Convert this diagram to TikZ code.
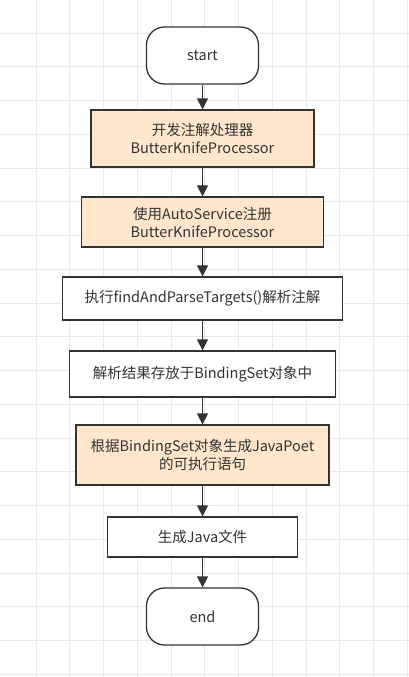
\documentclass[tikz,border=0pt]{standalone}
\usepackage{fontspec}
\setmainfont{Noto Sans CJK SC}
\usetikzlibrary{arrows.meta}
\definecolor{inkgray}{HTML}{333333}
\definecolor{peach}{HTML}{FFE6CC}
\definecolor{gridgray}{HTML}{E8E8E8}
\begin{document}
\begin{tikzpicture}[x=1pt,y=-1pt]
                        \tikzstyle{every node}=[text=inkgray,font=\fontsize{14.5}{18}\selectfont,align=center]
                        \tikzstyle{terminal}=[draw=inkgray,line width=1.3pt,fill=white,rounded corners=18pt,minimum width=112pt,minimum height=57pt]
                        \tikzstyle{stepbox}=[draw=inkgray,line width=1.3pt,fill=white,inner sep=0pt]
                        \tikzstyle{hot}=[stepbox,fill=peach]
                        \tikzstyle{flow}=[draw=inkgray,line width=1.4pt,-{Triangle[length=11pt,width=11pt]}]
                        \useasboundingbox (0,0) rectangle (409,677);
                        \fill[white] (0,0) rectangle (409,677);
                        \foreach \k in {0,...,11}
                            \draw[gridgray,line width=0.8pt] (36.05+33.75*\k,0) -- (36.05+33.75*\k,677);
                        \foreach \k in {0,...,19}
                            \draw[gridgray,line width=0.8pt] (0,33+33.75*\k) -- (409,33+33.75*\k);
                        \node[terminal] (start) at (202.5,55.5) {start};
                        \node[hot,minimum width=223pt,minimum height=57pt] (dev) at (202.5,138.5) {开发注解处理器\\ButterKnifeProcessor};
                        \node[hot,minimum width=242pt,minimum height=50pt] (reg) at (202.5,222) {使用AutoService注册\\ButterKnifeProcessor};
                        \node[stepbox,minimum width=280pt,minimum height=43pt] (parse) at (202.5,298.5) {执行findAndParseTargets()解析注解};
                        \node[stepbox,minimum width=266pt,minimum height=46pt] (store) at (202.5,374) {解析结果存放于BindingSet对象中};
                        \node[hot,minimum width=253pt,minimum height=60pt] (poet) at (202.5,455) {根据BindingSet对象生成JavaPoet\\的可执行语句};
                        \node[stepbox,minimum width=190pt,minimum height=40pt] (java) at (202.5,537) {生成Java文件};
                        \node[terminal] (end) at (202.5,616.5) {end};
                        \draw[flow] (start) -- (dev);
                        \draw[flow] (dev) -- (reg);
                        \draw[flow] (reg) -- (parse);
                        \draw[flow] (parse) -- (store);
                        \draw[flow] (store) -- (poet);
                        \draw[flow] (poet) -- (java);
                        \draw[flow] (java) -- (end);
                    \end{tikzpicture}
\end{document}
